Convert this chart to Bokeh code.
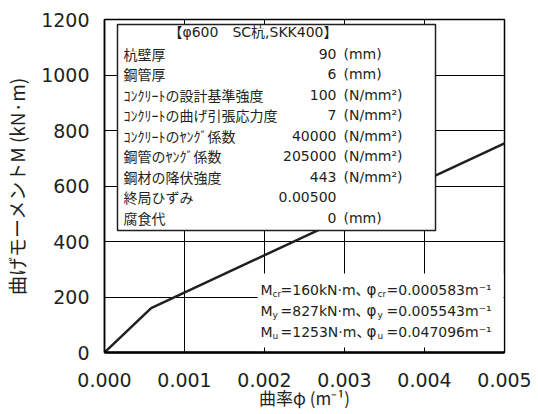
from bokeh.plotting import figure
from bokeh.models import Range1d, FixedTicker, NumeralTickFormatter
from bokeh.core.properties import value
from bokeh.embed import file_html
from bokeh.resources import INLINE

# ---------------- data ----------------
phi = [0.0, 0.000583, 0.005543]          # curvature (1/m)
moment = [0, 160, 827]                    # bending moment (kN·m)
x_ticks = [0.000, 0.001, 0.002, 0.003, 0.004, 0.005]
y_ticks = [0, 200, 400, 600, 800, 1000, 1200]

box_title = "【φ600　SC杭,SKK400】"
param_names = ["杭壁厚", "鋼管厚", "ｺﾝｸﾘｰﾄの設計基準強度", "ｺﾝｸﾘｰﾄの曲げ引張応力度",
               "ｺﾝｸﾘｰﾄのﾔﾝｸﾞ係数", "鋼管のﾔﾝｸﾞ係数", "鋼材の降伏強度", "終局ひずみ", "腐食代"]
param_values = ["90", "6", "100", "7", "40000", "205000", "443", "0.00500", "0"]
param_units = ["(mm)", "(mm)", "(N/mm²)", "(N/mm²)", "(N/mm²)", "(N/mm²)", "(N/mm²)", "", "(mm)"]

result_m = ["M", "M", "M"]
result_subs = ["cr", "y", "u"]
result_moments = ["=160kN·m、", "=827kN·m、", "=1253N·m、"]
result_phi = ["φ", "φ", "φ"]
result_curv = ["=0.000583m⁻¹", "=0.005543m⁻¹", "=0.047096m⁻¹"]

# ---------------- layout helpers ----------------
W, H = 538, 414
FL, FR, FT, FB = 104, 504, 19, 352
XMAX, YMAX = 0.005, 1200


def px_x(px):
    return (px - FL) / (FR - FL) * XMAX


def px_y(py):
    return (FB - py) / (FB - FT) * YMAX


CJK = "Noto Sans CJK JP"
LAT = "DejaVu Sans"
INK = "#231f20"

p = figure(width=W, height=H, output_backend="svg", toolbar_location=None,
           x_range=Range1d(0, XMAX), y_range=Range1d(0, YMAX),
           min_border_left=FL, min_border_right=W - FR,
           min_border_top=FT, min_border_bottom=H - FB)
p.background_fill_color = "white"
p.border_fill_color = "white"
p.outline_line_color = "black"
p.outline_line_width = 1.5

# axes
p.xaxis.ticker = FixedTicker(ticks=x_ticks)
p.yaxis.ticker = FixedTicker(ticks=y_ticks)
p.xaxis.formatter = NumeralTickFormatter(format="0.000")
for ax in (p.xaxis[0], p.yaxis[0]):
    ax.major_tick_in = 5
    ax.major_tick_out = 0
    ax.minor_tick_line_color = None
    ax.major_tick_line_color = "black"
    ax.axis_line_color = "black"
    ax.major_label_text_font = LAT
    ax.major_label_text_font_size = "19px"
    ax.major_label_text_color = INK
    ax.axis_label_text_font = CJK
    ax.axis_label_text_font_style = "normal"
    ax.axis_label_text_color = INK
p.xaxis.axis_label_text_font_size = "17px"
p.yaxis.axis_label_text_font_size = "19px"
p.xaxis.axis_line_width = 2.5
p.yaxis.axis_line_width = 1.5
p.xaxis.major_label_standoff = 20
p.yaxis.major_label_standoff = 15
p.xaxis.axis_label = "曲率φ (m⁻¹)"
p.yaxis.axis_label = "曲げモーメントM (kN·m)"
p.xaxis.axis_label_standoff = -5
p.yaxis.axis_label_standoff = 8

p.xgrid.ticker = FixedTicker(ticks=x_ticks)
p.ygrid.ticker = FixedTicker(ticks=y_ticks)
for g in (p.xgrid[0], p.ygrid[0]):
    g.grid_line_color = "black"
    g.grid_line_width = 1
    g.grid_line_alpha = 1

# curve
p.line(phi, moment, line_width=2.5, line_color=INK)

# upper info box
p.quad(left=px_x(117), right=px_x(435), bottom=px_y(230), top=px_y(24),
       fill_color="white", line_color=INK, line_width=1.5)
# lower result box (white patch, no border)
p.quad(left=px_x(257), right=px_x(503), bottom=px_y(351), top=px_y(273),
       fill_color="white", line_color=None)

n = len(param_names)
row_y = [px_y(53 + 20.5 * i) for i in range(n)]
p.text(x=[px_x(337)], y=[px_y(31)], text=[box_title], text_font=value(f"{LAT}, {CJK}"),
       text_font_size="14px", text_align="right", text_baseline="middle", text_color=INK)
p.text(x=[px_x(123)] * n, y=row_y, text=param_names, text_font=value(CJK),
       text_font_size="14px", text_align="left", text_baseline="middle", text_color=INK)
p.text(x=[px_x(336)] * n, y=row_y, text=param_values, text_font=value(LAT),
       text_font_size="14px", text_align="right", text_baseline="middle", text_color=INK)
p.text(x=[px_x(343)] * n, y=row_y, text=param_units, text_font=value(LAT),
       text_font_size="14px", text_align="left", text_baseline="middle", text_color=INK)

m = len(result_m)
res_rows = [289 + 21 * i for i in range(m)]
res_y = [px_y(r) for r in res_rows]
res_sub_y = [px_y(r + 4) for r in res_rows]
common = dict(text_baseline="middle", text_align="left", text_color=INK)
p.text(x=[px_x(260)] * m, y=res_y, text=result_m, text_font=value(LAT), text_font_size="14px", **common)
p.text(x=[px_x(272)] * m, y=res_sub_y, text=result_subs, text_font=value(LAT), text_font_size="9px", **common)
p.text(x=[px_x(280)] * m, y=res_y, text=result_moments, text_font=value(f"{LAT}, {CJK}"),
       text_font_size="14px", **common)
p.text(x=[px_x(366)] * m, y=res_y, text=result_phi, text_font=value(LAT), text_font_size="15px", **common)
p.text(x=[px_x(377)] * m, y=res_sub_y, text=result_subs, text_font=value(LAT), text_font_size="9px", **common)
p.text(x=[px_x(386)] * m, y=res_y, text=result_curv, text_font=value(LAT), text_font_size="14px", **common)

open("out.html", "w").write(file_html(p, INLINE))
